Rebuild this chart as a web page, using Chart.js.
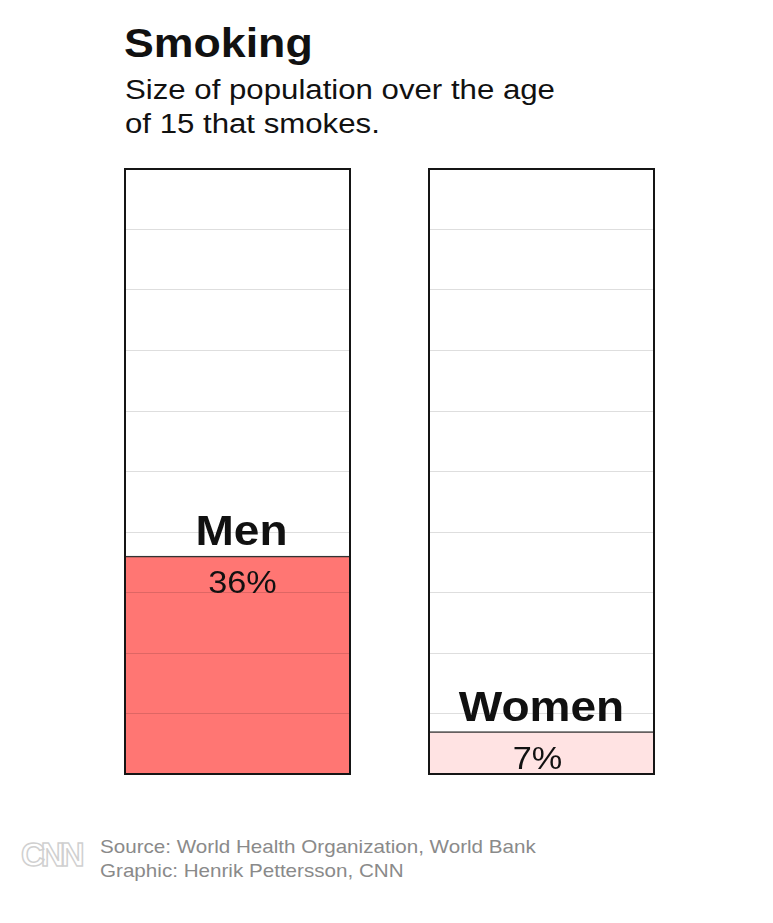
<!DOCTYPE html>
<html>
<head>
<meta charset="utf-8">
<script src="https://cdn.jsdelivr.net/npm/chart.js@4/dist/chart.umd.min.js"></script>
<style>
  html, body { margin:0; padding:0; background:#fff; }
  body { width:773px; height:923px; position:relative; overflow:hidden; font-family:"Liberation Sans", Arial, Helvetica, sans-serif; }
  #title { position:absolute; left:124px; top:19px; font-size:41px; font-weight:bold; color:#111; line-height:48px; transform:scaleX(1.09); transform-origin:left top; white-space:nowrap; }
  #subtitle { position:absolute; left:125px; top:73px; font-size:27px; color:#111; line-height:34px; transform:scaleX(1.155); transform-origin:left top; white-space:nowrap; }
  .panel { position:absolute; top:166px; width:229px; height:611px; }
  #p0 { left:123px; }
  #p1 { left:427px; }
  #logo { position:absolute; left:21px; top:836px; font-size:33px; font-weight:bold; color:#fff; -webkit-text-stroke:1.5px #d0d0d0; letter-spacing:-4px; font-family:"Liberation Sans", Arial, sans-serif; }
  #footer { position:absolute; left:100px; top:835px; font-size:19px; color:#8a8a8a; line-height:24px; transform:scaleX(1.085); transform-origin:left top; white-space:nowrap; }
</style>
</head>
<body>
<div id="title">Smoking</div>
<div id="subtitle">Size of population over the age<br>of 15 that smokes.</div>
<div class="panel" id="p0"><canvas id="c0" width="229" height="611"></canvas></div>
<div class="panel" id="p1"><canvas id="c1" width="229" height="611"></canvas></div>
<div id="logo">CNN</div>
<div id="footer">Source: World Health Organization, World Bank<br>Graphic: Henrik Pettersson, CNN</div>
<script>
const categories = ['Men', 'Women'];
const values = [36, 7];
const valueLabels = ['36%', '7%'];
const barColors = ['#ff7673', '#ffe3e3'];
const yTicks = [0, 10, 20, 30, 40, 50, 60, 70, 80, 90, 100];

const nameShift = [4, 0];
const valueShift = [5, -4];

const framePlugin = {
  id: 'frame',
  afterDraw(chart) {
    const ctx = chart.ctx, a = chart.chartArea;
    const i = chart.options.plugins.frame.index;
    const bar = chart.getDatasetMeta(0).data[0];
    ctx.save();
    ctx.fillStyle = '#111';
    ctx.textAlign = 'center';
    ctx.textBaseline = 'alphabetic';
    // category name (slightly widened)
    ctx.save();
    ctx.translate(bar.x + nameShift[i], bar.y - 11);
    ctx.scale(1.07, 1);
    ctx.font = 'bold 43px "Liberation Sans", Arial, sans-serif';
    ctx.fillText(categories[i], 0, 0);
    ctx.restore();
    // value label
    ctx.save();
    ctx.translate(bar.x + valueShift[i], bar.y + 37);
    ctx.scale(1.07, 1);
    ctx.font = '32px "Liberation Sans", Arial, sans-serif';
    ctx.fillText(valueLabels[i], 0, 0);
    ctx.restore();
    // frame
    ctx.strokeStyle = '#151515';
    ctx.lineWidth = 2;
    ctx.strokeRect(a.left, a.top, a.right - a.left, a.bottom - a.top);
    ctx.restore();
  }
};

function makeChart(id, i) {
  new Chart(document.getElementById(id), {
    type: 'bar',
    data: {
      labels: [categories[i]],
      datasets: [{
        data: [values[i]],
        backgroundColor: barColors[i],
        borderColor: '#333',
        borderWidth: { top: 1.5, left: 0, right: 0, bottom: 0 },
        borderSkipped: false,
        categoryPercentage: 1,
        barPercentage: 1
      }]
    },
    options: {
      responsive: false,
      animation: false,
      layout: { padding: { left: 2, right: 2, top: 3, bottom: 3 } },
      plugins: { legend: { display: false }, tooltip: { enabled: false }, frame: { index: i } },
      scales: {
        x: { display: false },
        y: {
          min: 0, max: 100,
          afterBuildTicks(scale) { scale.ticks = yTicks.map(v => ({ value: v })); },
          ticks: { display: false },
          border: { display: false },
          grid: { color: 'rgba(0,0,0,0.13)', lineWidth: 1, drawTicks: false, z: 1 }
        }
      }
    },
    plugins: [framePlugin]
  });
}
makeChart('c0', 0);
makeChart('c1', 1);
</script>
</body>
</html>
